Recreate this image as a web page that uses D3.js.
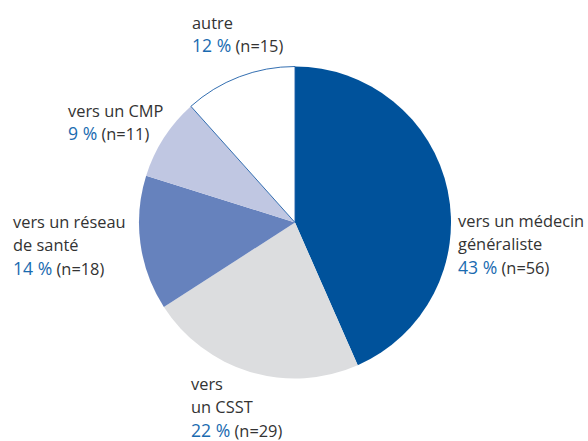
<!DOCTYPE html>
<html><head><meta charset="utf-8">
<script src="https://cdn.jsdelivr.net/npm/d3@7"></script>
<style>body{margin:0;background:#fff}svg{display:block}text{font-family:"Open Sans",sans-serif;font-size:16.4px}</style>
</head><body><svg id="c" width="588" height="441"></svg>
<script>
const categories = ["vers un médecin généraliste","vers un CSST","vers un réseau de santé","vers un CMP","autre"];
const counts = [56, 29, 18, 11, 15];
const percents = ["43 %","22 %","14 %","9 %","12 %"];
const labelLines = [["vers un médecin","généraliste"],["vers","un CSST"],["vers un réseau","de santé"],["vers un CMP"],["autre"]];
const colors = ["#00529b","#dcdddf","#6682bd","#c0c7e2","#ffffff"];

const svg = d3.select("#c");
const cx = 295, cy = 222.5, r = 156;
const pie = d3.pie().sort(null).value(d => d)(counts);
const arc = d3.arc().innerRadius(0).outerRadius(r);
const g = svg.append("g").attr("transform", `translate(${cx},${cy})`);
g.selectAll("path").data(pie).join("path")
  .attr("d", arc)
  .attr("fill", (d,i) => colors[i])
  .attr("stroke", (d,i) => i === 4 ? "#1d5fa8" : "none")
  .attr("stroke-width", 0.9);

const labelPos = [[458,227],[191,390],[13,228],[68,117],[192,29]];
const lh = 23.3;
labelLines.forEach((lines, i) => {
  const t = svg.append("text").attr("x", labelPos[i][0]).attr("y", labelPos[i][1]);
  lines.forEach((ln, j) => {
    t.append("tspan").attr("x", labelPos[i][0]).attr("dy", j === 0 ? 0 : lh).attr("fill", "#333").text(ln);
  });
  const last = t.append("tspan").attr("x", labelPos[i][0]).attr("dy", lh);
  last.append("tspan").attr("fill", "#1a6bb0").style("font-size", "17.6px").text(percents[i]);
  last.append("tspan").attr("fill", "#333").text(" (n=" + counts[i] + ")");
});
</script></body></html>
